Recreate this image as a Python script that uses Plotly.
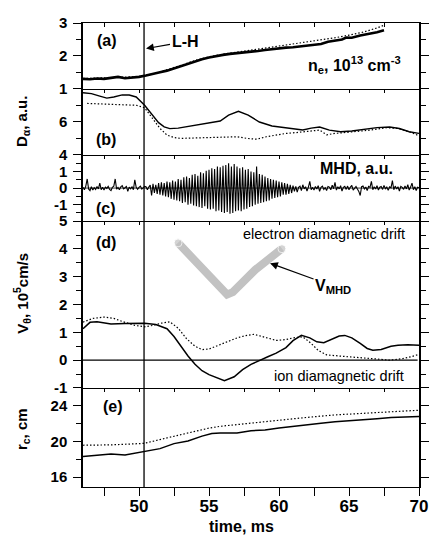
import numpy as np
import plotly.graph_objects as go

# ---------------- data ----------------
t_range = [46, 70]
t_LH = 50.36

# (a) line-averaged density, 1e13 cm^-3
ne_t = [46, 46.5, 47, 47.5, 48, 48.5, 49, 49.5, 50, 50.5, 51, 51.5, 52, 52.5, 53, 53.5, 54, 54.5,
        55, 55.5, 56, 56.5, 57, 57.5, 58, 58.5, 59, 59.5, 60, 60.5, 61, 61.5, 62, 62.5, 63, 63.5,
        64, 64.5, 64.8, 65.2, 65.8, 66.5, 67, 67.5]
ne_solid = [1.30, 1.29, 1.31, 1.30, 1.33, 1.36, 1.32, 1.33, 1.36, 1.40, 1.44, 1.50, 1.55, 1.62, 1.70, 1.78,
            1.85, 1.90, 1.95, 2.00, 2.03, 2.06, 2.08, 2.10, 2.11, 2.15, 2.18, 2.21, 2.24, 2.25, 2.26, 2.28,
            2.30, 2.33, 2.36, 2.43, 2.47, 2.50, 2.56, 2.55, 2.62, 2.67, 2.72, 2.78]
ne_dot_t = [46, 48, 50, 51, 52, 53, 54, 55, 56, 57, 58, 59, 60, 61, 62, 63, 64, 65, 66, 67, 67.5]
ne_dot = [1.31, 1.33, 1.37, 1.45, 1.57, 1.71, 1.86, 1.97, 2.05, 2.11, 2.17, 2.24, 2.30, 2.35, 2.41,
          2.47, 2.55, 2.63, 2.72, 2.85, 2.93]

# (b) D-alpha, a.u.
da_t = [46, 46.6, 47.2, 47.7, 48.2, 48.8, 49.3, 49.8, 50.4, 50.9, 51.4, 51.8, 52.2, 52.8, 53.5, 54.5,
        55.3, 55.8, 56.4, 57.1, 57.8, 58.6, 59.5, 60.5, 61.2, 61.7, 62.3, 62.9, 63.6, 64.4, 65.2, 66,
        67, 67.9, 68.6, 69.3, 70]
da_solid = [7.76, 7.70, 7.55, 7.43, 7.50, 7.63, 7.62, 7.50, 7.00, 6.50, 5.95, 5.70, 5.59, 5.62, 5.72,
            5.85, 5.95, 6.05, 6.40, 6.64, 6.40, 5.99, 5.75, 5.65, 5.55, 5.51, 5.62, 5.69, 5.50, 5.40,
            5.45, 5.55, 5.65, 5.69, 5.60, 5.40, 5.30]
da_dot_t = [46.3, 47, 48, 49, 49.8, 50.4, 51, 51.5, 52, 52.5, 53, 54, 55, 56, 57, 57.7, 58.4, 59.1,
            59.8, 60.5, 61.2, 62, 62.9, 63.4, 64, 65.3, 66.5, 67.7, 68.5, 69.3, 70]
da_dot = [7.11, 7.08, 7.05, 7.03, 7.00, 6.85, 6.20, 5.60, 5.20, 5.05, 5.00, 5.02, 5.03, 5.05, 5.10,
          5.00, 4.95, 5.10, 5.20, 5.30, 5.35, 5.40, 5.50, 5.22, 5.30, 5.40, 5.50, 5.65, 5.60, 5.40, 5.16]

# (c) MHD signal, a.u. (sampled every 0.1 ms from 46.0 to 70.0)
mhd_t0, mhd_dt = 46.0, 0.1
mhd = [
    0.05, -0.10, 0.12, 0.55, -0.05, -0.15, 0.08, -0.12, 0.02, -0.08,
    0.10, -0.05, 0.30, -0.10, 0.05, -0.12, 0.06, -0.02, 0.10, -0.08,
    -0.15, 0.05, 0.12, 0.55, -0.06, 0.04, -0.10, 0.08, 0.15, -0.05,
    0.02, 0.10, -0.20, 0.06, -0.04, 0.08, -0.10, 0.50, 0.05, -0.08,
    0.04, 0.12, -0.06, 0.02, 0.10, 0.08, -0.10, 0.06, 0.18, -0.45,
    0.25, -0.30, 0.20, -0.35, 0.30, -0.40, 0.35, -0.45, 0.30, -0.50,
    0.40, -0.55, 0.35, -0.65, 0.45, -0.70, 0.40, -0.75, 0.55, -0.80,
    0.50, -0.90, 0.65, -0.85, 0.70, -1.00, 0.60, -0.95, 0.80, -1.05,
    0.85, -1.10, 0.75, -1.15, 0.95, -1.20, 0.90, -1.10, 1.05, -1.25,
    1.10, -1.30, 1.20, -1.25, 1.15, -1.40, 1.30, -1.35, 1.25, -1.45,
    1.35, -1.50, 1.40, -1.45, 1.50, -1.55, 1.30, -1.50, 1.45, -1.40,
    1.30, -1.35, 1.20, -1.40, 1.25, -1.30, 1.10, -1.25, 1.15, -1.15,
    1.00, -1.10, 0.95, -1.00, 1.30, -0.95, 0.85, -0.90, 0.80, -0.85,
    0.70, -0.80, 0.60, -0.75, 0.55, -0.65, 0.50, -0.60, 0.45, -0.55,
    0.40, -0.50, 0.35, -0.40, 0.30, -0.40, 0.25, -0.35, 0.20, -0.30,
    0.15, -0.20, 0.10, -0.25, 0.05, 0.12, -0.15, 0.20, -0.05, 0.08,
    -0.18, 0.06, 0.40, -0.10, 0.04, -0.12, 0.10, -0.06, 0.15, -0.20,
    0.05, 0.12, -0.08, 0.02, -0.15, 0.10, 0.06, -0.10, 0.18, -0.04,
    0.35, -0.12, 0.08, -0.05, 0.14, -0.18, 0.04, 0.10, -0.08, 0.12,
    -0.10, 0.06, 0.16, -0.12, 0.02, 0.10, -0.06, -0.20, -0.45, 0.08,
    0.12, -0.05, 0.06, -0.15, 0.10, 0.04, 0.40, -0.10, 0.08, -0.06,
    0.14, -0.12, 0.05, 0.10, -0.08, 0.16, -0.04, 0.06, -0.14, 0.08,
    0.02, 0.45, -0.10, 0.12, -0.06, 0.08, -0.18, 0.10, 0.04, -0.08,
    0.12, -0.05, 0.20, -0.12, 0.06, 0.30, -0.10, 0.08, -0.15, 0.05,
    0.02]

# (d) poloidal rotation velocity, 1e5 cm/s
v_t = [46, 46.5, 47, 48, 49, 50.4, 51.2, 52, 52.5, 53, 53.5, 54, 54.5, 55, 55.5, 56.1, 56.8, 57.4,
       58, 58.6, 59.2, 59.8, 60.5, 61, 61.6, 62.2, 62.7, 63.2, 63.8, 64.3, 64.7, 65.2, 65.8, 66.3,
       66.7, 67.3, 68, 68.5, 69.2, 70]
v_solid = [1.13, 1.36, 1.38, 1.30, 1.32, 1.33, 1.28, 1.13, 0.85, 0.49, 0.15, -0.15, -0.38, -0.52,
           -0.62, -0.74, -0.60, -0.34, -0.15, 0.00, 0.12, 0.25, 0.45, 0.70, 0.89, 0.80, 0.66, 0.63,
           0.75, 0.87, 0.89, 0.80, 0.60, 0.42, 0.36, 0.38, 0.50, 0.54, 0.55, 0.54]
v_dot_t = [46, 46.7, 47.5, 48.2, 49, 49.7, 50.4, 51, 51.6, 52.2, 52.8, 53.4, 54, 54.5, 55, 55.5,
           56.2, 57, 57.6, 58.2, 58.8, 59.4, 59.8, 60.5, 61, 61.7, 62.3, 62.8, 63.4, 64.5, 65.8,
           67, 67.9, 68.8, 69.5, 70]
v_dot = [1.37, 1.50, 1.55, 1.50, 1.36, 1.25, 1.20, 1.25, 1.33, 1.38, 1.15, 0.77, 0.50, 0.38, 0.40,
         0.50, 0.65, 0.80, 0.88, 0.93, 0.85, 0.75, 0.71, 0.74, 0.80, 0.84, 0.60, 0.35, 0.19, 0.14,
         0.10, 0.04, 0.00, 0.05, 0.13, 0.21]
vmhd_t = [52.79, 54.6, 55.9, 56.29, 56.7, 58.3, 60.21]
vmhd = [4.22, 3.25, 2.50, 2.36, 2.45, 3.25, 4.01]

# (e) r_c, cm
rc_t = [46, 47, 48, 49, 50, 50.4, 51.5, 52.5, 53.5, 54.5, 55.2, 55.8, 57, 58, 59, 60, 61, 62, 63,
        64, 65, 66, 67, 68, 69, 70]
rc_solid = [18.33, 18.45, 18.60, 18.50, 18.77, 18.88, 19.20, 19.76, 20.05, 20.60, 20.90, 20.96,
            20.96, 21.20, 21.30, 21.50, 21.70, 21.90, 22.05, 22.20, 22.30, 22.43, 22.55, 22.70,
            22.75, 22.80]
rc_dot_t = [46, 48, 50, 50.4, 52, 54, 55, 55.8, 58, 60, 62, 64, 66, 68, 70]
rc_dot = [19.58, 19.62, 19.76, 19.80, 20.40, 21.15, 21.50, 21.70, 22.06, 22.43, 22.70, 22.98,
          23.16, 23.34, 23.50]

# ---------------- figure ----------------
FONT = "Liberation Sans, Arial, sans-serif"
BLACK = "black"
DOT = "1.5px,2px"
mhd_time = mhd_t0 + mhd_dt * np.arange(len(mhd))

fig = go.Figure()

def line(x, y, ax, dash=None, width=1.4, color=BLACK):
    fig.add_trace(go.Scatter(x=x, y=y, mode="lines", xaxis="x" + ax, yaxis="y" + ax,
                             line=dict(color=color, width=width, dash=dash),
                             showlegend=False, hoverinfo="skip"))

# panel a
line(ne_dot_t, ne_dot, "", dash=DOT, width=1.2)
line(ne_t, ne_solid, "", width=2.6)
# panel b
line(da_dot_t, da_dot, "2", dash=DOT, width=1.2)
line(da_t, da_solid, "2", width=1.4)
# panel c
line(mhd_time, mhd, "3", width=1.1)
# panel d
fig.add_trace(go.Scatter(x=vmhd_t, y=vmhd, mode="lines+markers", xaxis="x4", yaxis="y4",
                         line=dict(color="#c2c2c2", width=8),
                         marker=dict(color="#c2c2c2", size=[8, 0, 0, 0, 0, 0, 8]),
                         showlegend=False, hoverinfo="skip"))
line(v_dot_t, v_dot, "4", dash=DOT, width=1.2)
line(v_t, v_solid, "4", width=1.5)
# panel e
line(rc_dot_t, rc_dot, "5", dash=DOT, width=1.2)
line(rc_t, rc_solid, "5", width=1.5)
# dummy trace for top ticks of panel a
fig.add_trace(go.Scatter(x=[None], y=[None], xaxis="x6", yaxis="y", showlegend=False))

# domains (bottom to top)
dom = {
    "": [0.8584, 1.0],
    "2": [0.7156, 0.8584],
    "3": [0.5729, 0.7156],
    "4": [0.2135, 0.5729],
    "5": [0.0, 0.2135],
}
yranges = {"": [1, 3], "2": [4, 8], "3": [-2, 2], "4": [-1, 5], "5": [14.9, 26]}
ytv = {
    "": ([1, 2, 3], ["1", "2", "3"], [1.5, 2.5]),
    "2": ([4, 6, 8], ["4", "6", ""], [5, 7]),
    "3": ([-2, -1, 0, 1, 2], ["", "-1", "0", "1", ""], [-1.5, -0.5, 0.5, 1.5]),
    "4": ([-1, 0, 1, 2, 3, 4, 5], ["-1", "0", "1", "2", "3", "4", "5"],
          [-0.5, 0.5, 1.5, 2.5, 3.5, 4.5]),
    "5": ([16, 20, 24], ["16", "20", "24"], [18, 22]),
}
xt_vals = [47.5, 50, 52.5, 55, 57.5, 60, 62.5, 65, 67.5, 70]
xt_text = ["", "50", "", "55", "", "60", "", "65", "", "70"]

# page body has an 8px margin: shrink the figure and its left/top margins by 8px
layout = dict(
    width=430, height=537,
    margin=dict(l=75, r=19, t=6, b=58),
    paper_bgcolor="white", plot_bgcolor="white",
    font=dict(family=FONT, color=BLACK),
    showlegend=False,
)
for k in ["", "2", "3", "4", "5"]:
    bottom = (k == "5")
    layout["xaxis" + k] = dict(
        range=t_range, domain=[0, 1], anchor="y" + k,
        showgrid=False, zeroline=False, showline=True, linecolor=BLACK, linewidth=1.3,
        mirror=(k == ""), ticks="outside", ticklen=8 if bottom else 3, tickwidth=1.3,
        tickcolor=BLACK,
        tickmode="array", tickvals=xt_vals, ticktext=xt_text,
        showticklabels=bottom,
        tickfont=dict(family=FONT, size=17, weight="bold"),
        ticklabelstandoff=-5,
        matches=None if k == "" else "x",
    )
    tv, tt, mv = ytv[k]
    layout["yaxis" + k] = dict(
        range=yranges[k], domain=dom[k], anchor="x" + k,
        showgrid=False, zeroline=False, showline=True, linecolor=BLACK, linewidth=1.5,
        mirror="ticks", ticks="outside", ticklen=8, tickwidth=1.4, tickcolor=BLACK,
        tickmode="array", tickvals=tv, ticktext=tt,
        tickfont=dict(family=FONT, size=15, weight="bold"),
        ticklabelstandoff=3,
        minor=dict(ticks="outside", ticklen=5, tickwidth=1.2, tickcolor=BLACK,
                   tickmode="array", tickvals=mv),
    )
layout["xaxis6"] = dict(range=t_range, overlaying="x", side="top", anchor="y",
                        showgrid=False, zeroline=False, showline=False,
                        ticks="inside", ticklen=4, tickwidth=1.2, tickcolor=BLACK,
                        tickmode="array", tickvals=xt_vals, showticklabels=False)
fig.update_layout(**layout)

# L-H vertical line, zero lines
fig.add_shape(type="line", xref="x", yref="paper", x0=t_LH, x1=t_LH, y0=0, y1=1,
              line=dict(color=BLACK, width=1.3))
fig.add_shape(type="line", xref="x4", yref="y4", x0=46, x1=69.9, y0=0, y1=0,
              line=dict(color=BLACK, width=1.3))
fig.add_shape(type="line", xref="x3", yref="y3", x0=46, x1=70, y0=0, y1=0,
              line=dict(color=BLACK, width=0.8))

def txt(x, y, ax, s, size=16, bold=True, xanchor="center"):
    fig.add_annotation(x=x, y=y, xref="x" + ax, yref="y" + ax, text=s, showarrow=False,
                       xanchor=xanchor, yanchor="middle",
                       font=dict(family=FONT, size=size, color=BLACK,
                                 weight="bold" if bold else "normal"))

# panel labels
txt(47.7, 2.46, "", "(a)")
txt(47.64, 4.92, "2", "(b)")
txt(47.64, -1.25, "3", "(c)")
txt(47.64, 4.24, "4", "(d)")
txt(48.14, 23.9, "5", "(e)")
# inner texts
txt(65.36, 1.72, "", "n<sub>e</sub>, 10<sup>13</sup> cm<sup>-3</sup>", size=16)
txt(65.5, 1.19, "3", "MHD, a.u.", size=16)
txt(63.2, 4.55, "4", "electron diamagnetic drift", size=14.5, bold=False)
txt(64.3, -0.56, "4", "ion diamagnetic drift", size=14.5, bold=False)

# arrows
fig.add_annotation(x=50.5, y=2.22, xref="x", yref="y", text="L-H", showarrow=True,
                   ax=39, ay=-7, arrowhead=2, arrowsize=1.3, arrowwidth=1.2, arrowcolor=BLACK,
                   font=dict(family=FONT, size=16, color=BLACK, weight="bold"))
fig.add_annotation(x=59.36, y=3.49, xref="x4", yref="y4", text="V<sub>MHD</sub>", showarrow=True,
                   ax=63, ay=23, arrowhead=2, arrowsize=1.3, arrowwidth=1.2, arrowcolor=BLACK,
                   font=dict(family=FONT, size=16, color=BLACK, weight="bold"))

# y axis titles
def ytitle(ypix, s):
    fig.add_annotation(x=(22 - 83) / 336, y=(487 - ypix) / 473, xref="paper", yref="paper",
                       text=s, showarrow=False, textangle=-90, xanchor="center", yanchor="middle",
                       font=dict(family=FONT, size=15, color=BLACK, weight="bold"))

ytitle(114, "D<sub>α</sub>, a.u.")
ytitle(290, "V<sub>θ</sub>, 10<sup>5</sup>cm/s")
ytitle(428, "r<sub>c</sub>, cm")
fig.add_annotation(x=(241 - 83) / 336, y=(487 - 527) / 473, xref="paper", yref="paper",
                   text="time, ms", showarrow=False, xanchor="center", yanchor="middle",
                   font=dict(family=FONT, size=16, color=BLACK, weight="bold"))

fig.write_html("out.html")
